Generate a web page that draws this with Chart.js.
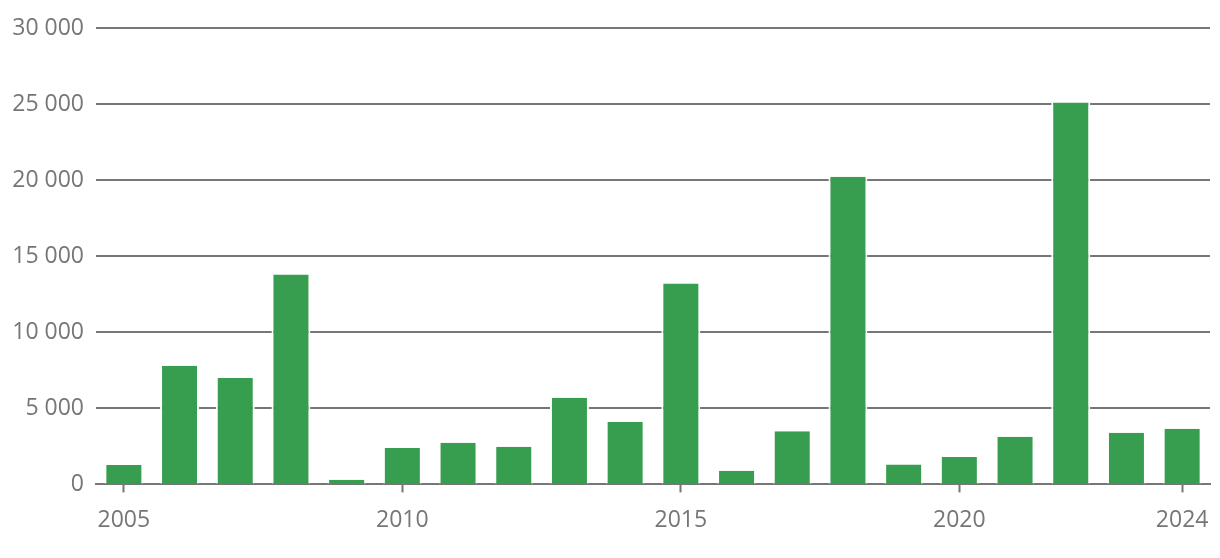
<!DOCTYPE html>
<html>
<head>
<meta charset="utf-8">
<script src="https://cdn.jsdelivr.net/npm/chart.js@4"></script>
<style>
html,body{margin:0;padding:0;background:#fff;}
#wrap{width:1220px;height:558px;}
</style>
</head>
<body>
<div id="wrap"><canvas id="c" width="1220" height="558"></canvas></div>
<script>
const years = ["2005","2006","2007","2008","2009","2010","2011","2012","2013","2014","2015","2016","2017","2018","2019","2020","2021","2022","2023","2024"];
const values = [1280,7800,7000,13800,300,2400,2730,2470,5700,4100,13200,900,3500,20230,1300,1800,3130,25100,3390,3650];
const shownYearLabels = ["2005","2010","2015","2020","2024"];
const yTicks = [0,5000,10000,15000,20000,25000,30000];

const grey = '#767676';
const fmt = v => String(v).replace(/\B(?=(\d{3})+(?!\d))/g, ' ');

new Chart(document.getElementById('c'), {
  type: 'bar',
  data: {
    labels: years,
    datasets: [{
      data: values,
      backgroundColor: '#389E4F',
      borderColor: '#ffffff',
      borderWidth: {left: 2, right: 2, top: 0, bottom: 0},
      borderSkipped: false,
      barPercentage: 0.7,
      categoryPercentage: 1.0
    }]
  },
  options: {
    responsive: false,
    animation: false,
    devicePixelRatio: 1,
    layout: {padding: {top: 28, right: 10, bottom: 10, left: 0}},
    plugins: {legend: {display: false}, tooltip: {enabled: false}},
    scales: {
      x: {
        offset: true,
        afterFit: s => { s.paddingLeft = 0; s.paddingRight = 0; },
        grid: {display: true, drawOnChartArea: false, drawTicks: true, tickLength: 8, tickWidth: 2, tickColor: grey, offset: false},
        border: {display: true, color: grey, width: 2},
        ticks: {
          autoSkip: false, maxRotation: 0, padding: 14,
          color: grey, font: {family: 'Open Sans', size: 23},
          callback: function(v, i) { const l = years[i]; return shownYearLabels.includes(l) ? l : null; }
        }
      },
      y: {
        min: 0, max: 30000,
        afterBuildTicks: s => { s.ticks = yTicks.map(v => ({value: v})); },
        afterFit: s => { s.width = 96; },
        grid: {color: grey, lineWidth: 2, drawTicks: false},
        border: {display: false},
        ticks: {padding: 12, color: grey, font: {family: 'Open Sans', size: 23}, callback: v => fmt(v)}
      }
    }
  }
});
</script>
</body>
</html>
